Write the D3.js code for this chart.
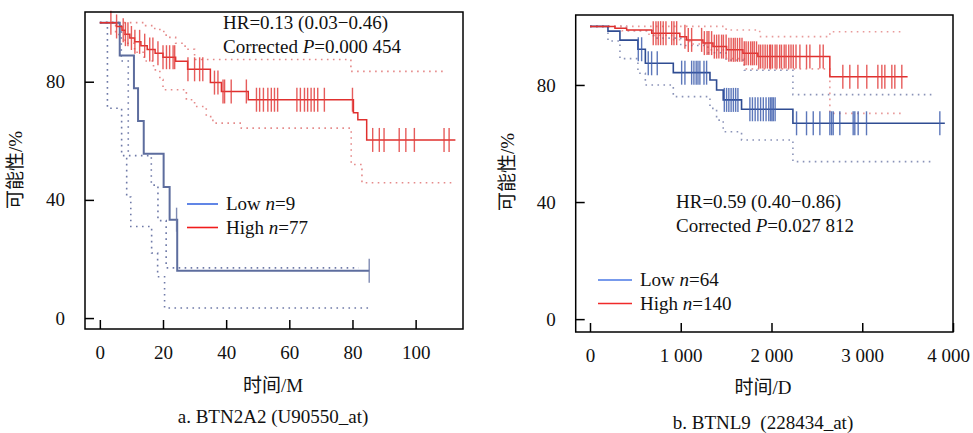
<!DOCTYPE html>
<html>
<head>
<meta charset="utf-8">
<script src="https://cdn.jsdelivr.net/npm/d3@7"></script>
<style>
body { margin: 0; background: #fff; }
text { font-family: "Liberation Serif", "Noto Sans CJK SC", serif; fill: #111; }
.caption { white-space: pre; }
</style>
</head>
<body>
<svg id="chart" width="973" height="433"></svg>
<script>
// ---- panel a: BTN2A2 (months) ----
var aXTicks = [0, 20, 40, 60, 80, 100];
var aXTickLabels = ["0", "20", "40", "60", "80", "100"];
var aYTicks = [0, 40, 80];
var aYTickLabels = ["0", "40", "80"];

var aLowTime = [0, 6.3, 10.8, 12.1, 13.9, 20.2, 22.1, 24.5];
var aLowSurv = [100, 88.9, 77.8, 66.7, 55.6, 44.4, 33.3, 16];
var aLowEnd = 85.3;
var aLowCensor = [24.3, 85.3];
var aLowCiLoTime = [0, 2.4, 6.9, 8.5, 9.8, 16.4, 18.3, 20.5];
var aLowCiLoSurv = [100, 71, 55, 41, 31, 22, 14, 3.4];
var aLowCiLoEnd = 85.3;
var aLowCiHiTime = [0, 6.8, 9, 16.3, 18.4, 21];
var aLowCiHiSurv = [100, 87, 55, 45, 33, 17];
var aLowCiHiEnd = 82;

var aHighTime = [0, 5.3, 7, 8, 9.5, 11, 13, 15, 17.5, 20, 24, 27.8, 35, 38.5, 47, 80.3, 81.7, 84.5];
var aHighSurv = [100, 98.7, 97.4, 96.1, 94.8, 93.5, 92.2, 90.9, 89.6, 88.3, 86.9, 84.2, 79.7, 76.7, 73.9, 69.5, 67.1, 60.3];
var aHighEnd = 112.6;
var aHighCensor = [3.5, 5.3, 7.4, 8.1, 8.9, 10, 11.1, 12.6, 14.2, 15.8, 16.8, 18.4, 20, 21.1, 22.1, 23.2, 23.7,
  27.9, 30, 31.6, 32.6, 36.3, 37.4, 39, 39.5, 41.6, 46.4, 49.6, 50.6, 51.8, 53.2, 54.3, 55.3, 56.3,
  62.4, 63.5, 64.8, 65.8, 66.9, 67.9, 69, 71.1, 80, 86.4, 88.5, 90, 94.8, 96.9, 99.6, 109, 110.6];
var aHighCiLoTime = [0, 5, 8, 11, 14, 17, 19, 20, 27.4, 30, 33.7, 35.8, 44.8, 79.6, 83];
var aHighCiLoSurv = [100, 96, 93, 90, 87, 84, 80.7, 77.3, 73.9, 71.6, 68.2, 66, 64.3, 52, 45.8];
var aHighCiLoEnd = 111.5;
var aHighCiHiTime = [0, 14.5, 17, 19, 21, 24, 27, 30, 79.5];
var aHighCiHiSurv = [100, 99, 98, 97, 95, 93, 91, 87.5, 83.5];
var aHighCiHiEnd = 109;

// ---- panel b: BTNL9 (days) ----
var bXTicks = [0, 1000, 2000, 3000, 4000];
var bXTickLabels = ["0", "1 000", "2 000", "3 000", "4 000"];
var bYTicks = [0, 40, 80];
var bYTickLabels = ["0", "40", "80"];

var bLowTime = [0, 198, 330, 528, 610, 918, 1322, 1395, 1468, 1670, 2236];
var bLowSurv = [100, 98.4, 95.3, 92.2, 87.4, 84.2, 81.7, 78.3, 74.9, 71.7, 66.9];
var bLowEnd = 3910;
var bLowCensor = [532, 569, 642, 679, 741, 1010, 1046, 1120, 1145, 1170, 1190, 1211, 1256, 1285,
  1480, 1505, 1530, 1555, 1580, 1605, 1630, 1762, 1790, 1820, 1850, 1880, 1910, 1940, 1970,
  1990, 2005, 2020, 2040, 2276, 2386, 2460, 2533, 2643, 2662, 2680, 2753, 2900, 2918, 2955, 3047, 3855];
var bLowCiLoTime = [0, 198, 330, 528, 610, 918, 1322, 1395, 1468, 1670, 2236];
var bLowCiLoSurv = [100, 95, 89, 84, 80, 76, 72, 68, 64, 61.2, 53.8];
var bLowCiLoEnd = 3777;
var bLowCiHiTime = [0, 400, 700, 1000, 1300, 1500, 1700, 2236];
var bLowCiHiSurv = [100, 98.5, 96, 93.5, 91, 88.5, 85, 76.7];
var bLowCiHiEnd = 3777;

var bHighTime = [0, 275, 404, 680, 990, 1065, 1245, 1355, 1505, 1685, 1850, 2643];
var bHighSurv = [100, 99.4, 98.8, 97.7, 96.5, 95.4, 94.3, 93.1, 92, 90.8, 89.7, 82.8];
var bHighEnd = 3500;
var bHighCensor = [697, 727, 752, 778, 807, 837, 900, 925, 955, 1046, 1083, 1120,
  1230, 1260, 1290, 1310, 1340, 1370, 1395, 1420, 1450, 1470, 1500, 1530, 1555, 1580, 1600, 1625,
  1650, 1675, 1700, 1720, 1745, 1770, 1790, 1810, 1835, 1860, 1880, 1905, 1930, 1955, 1980,
  1990, 2010, 2040, 2060, 2090, 2110, 2140, 2160, 2190, 2215, 2240, 2270, 2313, 2386, 2423, 2533, 2570,
  2786, 2863, 2952, 3050, 3172, 3216, 3249, 3326, 3359, 3436];
var bHighCiLoTime = [0, 350, 650, 900, 1100, 1300, 1500, 1700, 2643];
var bHighCiLoSurv = [100, 98.5, 97, 95.5, 94, 92, 89, 85.5, 70.3];
var bHighCiLoEnd = 3447;
var bHighCiHiTime = [0, 1500, 1870, 2643];
var bHighCiHiSurv = [100, 98.8, 96.5, 98.2];
var bHighCiHiEnd = 3447;

var svg = d3.select("#chart");

function drawPanel(p) {
    var x = d3.scaleLinear().domain(p.xDomain).range([p.left, p.right]);
    var y = d3.scaleLinear().domain(p.yDomain).range([p.bottom, p.top]);
    var g = svg.append("g");

    // step curve for one series
    function step(times, surv, end) {
        var pts = times.map(function(t, i) { return [t, surv[i]]; });
        pts.push([end, surv[surv.length - 1]]);
        return d3.line()
            .x(function(d) { return x(d[0]); })
            .y(function(d) { return y(d[1]); })
            .curve(d3.curveStepAfter)(pts);
    }
    function survAt(times, surv, t) {
        return surv[Math.max(0, d3.bisectRight(times, t) - 1)];
    }

    // confidence bands (dotted)
    p.series.forEach(function(s) {
        [s.lo, s.hi].forEach(function(ci) {
            g.append("path")
                .attr("d", step(ci[0], ci[1], ci[2]))
                .attr("fill", "none")
                .attr("stroke", s.ciColor)
                .attr("stroke-width", 1.6)
                .attr("stroke-dasharray", "1.6,4.4");
        });
    });

    // curves + censor marks
    p.series.forEach(function(s) {
        g.append("path")
            .attr("d", step(s.time, s.surv, s.end))
            .attr("fill", "none")
            .attr("stroke", s.color)
            .attr("stroke-width", s.width);
        g.selectAll(null)
            .data(s.censor)
            .enter().append("line")
            .attr("x1", function(d) { return x(d); })
            .attr("x2", function(d) { return x(d); })
            .attr("y1", function(d) { return y(survAt(s.time, s.surv, d)) - 12; })
            .attr("y2", function(d) { return y(survAt(s.time, s.surv, d)) + 12; })
            .attr("stroke", s.markColor)
            .attr("stroke-opacity", 0.85)
            .attr("stroke-width", 1.4);
    });

    // frame
    g.append("rect")
        .attr("x", p.left).attr("y", p.top)
        .attr("width", p.right - p.left).attr("height", p.bottom - p.top)
        .attr("fill", "none").attr("stroke", "#000").attr("stroke-width", 1.5);

    // axes, ticks pointing inwards
    var xa = g.append("g")
        .attr("transform", "translate(0," + p.bottom + ")")
        .call(d3.axisBottom(x).tickValues(p.xTicks)
            .tickFormat(function(d, i) { return p.xTickLabels[i]; })
            .tickSize(-9).tickPadding(17));
    var ya = g.append("g")
        .attr("transform", "translate(" + p.left + ",0)")
        .call(d3.axisLeft(y).tickValues(p.yTicks)
            .tickFormat(function(d, i) { return p.yTickLabels[i]; })
            .tickSize(-9).tickPadding(20));
    [xa, ya].forEach(function(a) {
        a.select(".domain").remove();
        a.selectAll("line").attr("stroke", "#000").attr("stroke-width", 1.5);
        a.selectAll("text").attr("font-size", 19).attr("font-family", "Liberation Serif").attr("fill", "#111");
    });
    // keep the last x label inside the page
    if (p.lastLabelShift) {
        xa.selectAll(".tick text").filter(function(d, i, n) { return i === n.length - 1; })
            .attr("dx", p.lastLabelShift);
    }

    // axis titles and caption
    g.append("text").attr("x", p.xTitleX).attr("y", p.xTitleY)
        .attr("text-anchor", "middle").attr("font-size", 19).text(p.xTitle);
    g.append("text")
        .attr("transform", "translate(" + p.yTitleX + "," + p.yTitleY + ") rotate(-90)")
        .attr("text-anchor", "middle").attr("font-size", 19).text("可能性/%");
    g.append("text").attr("class", "caption").attr("x", p.xTitleX).attr("y", p.captionY)
        .attr("xml:space", "preserve")
        .attr("text-anchor", "middle").attr("font-size", 19).text(p.caption);

    // HR annotation
    var t1 = g.append("text").attr("x", p.hrX).attr("y", p.hrY).attr("font-size", 19);
    t1.text(p.hrText);
    var t2 = g.append("text").attr("x", p.hrX).attr("y", p.hrY + 24).attr("font-size", 19);
    t2.append("tspan").text("Corrected ");
    t2.append("tspan").attr("font-style", "italic").text("P");
    t2.append("tspan").text(p.pText);

    // legend
    p.series.forEach(function(s, i) {
        var ly = p.legY + i * 23.5;
        g.append("line")
            .attr("x1", p.legX).attr("x2", p.legX + p.legLen)
            .attr("y1", ly).attr("y2", ly)
            .attr("stroke", s.legColor).attr("stroke-width", 1.6);
        var lt = g.append("text").attr("x", p.legX + p.legLen + 8).attr("y", ly + 6).attr("font-size", 19);
        lt.append("tspan").text(s.name + " ");
        lt.append("tspan").attr("font-style", "italic").text("n");
        lt.append("tspan").text("=" + s.n);
    });
}

drawPanel({
    left: 85, right: 463, top: 12, bottom: 329,
    xDomain: [-4.7, 115], yDomain: [-3.7, 103.6],
    xTicks: aXTicks, xTickLabels: aXTickLabels, yTicks: aYTicks, yTickLabels: aYTickLabels,
    xTitle: "时间/M", xTitleX: 273, xTitleY: 392, captionY: 423,
    caption: "a. BTN2A2 (U90550_at)",
    yTitleX: 22, yTitleY: 170,
    hrX: 223, hrY: 29, hrText: "HR=0.13 (0.03\u22120.46)", pText: "=0.000 454",
    legX: 187, legY: 204, legLen: 31,
    series: [
        { name: "Low", n: 9, time: aLowTime, surv: aLowSurv, end: aLowEnd, censor: aLowCensor,
          lo: [aLowCiLoTime, aLowCiLoSurv, aLowCiLoEnd], hi: [aLowCiHiTime, aLowCiHiSurv, aLowCiHiEnd],
          color: "#5d6d9e", width: 2, markColor: "#6877a6", ciColor: "#6f7aa8", legColor: "#3a68e0" },
        { name: "High", n: 77, time: aHighTime, surv: aHighSurv, end: aHighEnd, censor: aHighCensor,
          lo: [aHighCiLoTime, aHighCiLoSurv, aHighCiLoEnd], hi: [aHighCiHiTime, aHighCiHiSurv, aHighCiHiEnd],
          color: "#e0302e", width: 1.5, markColor: "#e2403e", ciColor: "#e58a8a", legColor: "#f01c1c" }
    ]
});

drawPanel({
    left: 575.7, right: 953, top: 15, bottom: 332,
    xDomain: [-157.5, 4000], yDomain: [-4.4, 103.9],
    xTicks: bXTicks, xTickLabels: bXTickLabels, yTicks: bYTicks, yTickLabels: bYTickLabels,
    lastLabelShift: -5,
    xTitle: "时间/D", xTitleX: 763, xTitleY: 394, captionY: 429,
    caption: "b. BTNL9  (228434_at)",
    yTitleX: 514, yTitleY: 172,
    hrX: 676, hrY: 208, hrText: "HR=0.59 (0.40\u22120.86)", pText: "=0.027 812",
    legX: 598, legY: 280, legLen: 34,
    series: [
        { name: "Low", n: 64, time: bLowTime, surv: bLowSurv, end: bLowEnd, censor: bLowCensor,
          lo: [bLowCiLoTime, bLowCiLoSurv, bLowCiLoEnd], hi: [bLowCiHiTime, bLowCiHiSurv, bLowCiHiEnd],
          color: "#2f4c92", width: 1.6, markColor: "#3f5fae", ciColor: "#8a93b8", legColor: "#4a78e6" },
        { name: "High", n: 140, time: bHighTime, surv: bHighSurv, end: bHighEnd, censor: bHighCensor,
          lo: [bHighCiLoTime, bHighCiLoSurv, bHighCiLoEnd], hi: [bHighCiHiTime, bHighCiHiSurv, bHighCiHiEnd],
          color: "#e0302e", width: 1.5, markColor: "#e2403e", ciColor: "#e89a9a", legColor: "#f02a2a" }
    ]
});
</script>
</body>
</html>
